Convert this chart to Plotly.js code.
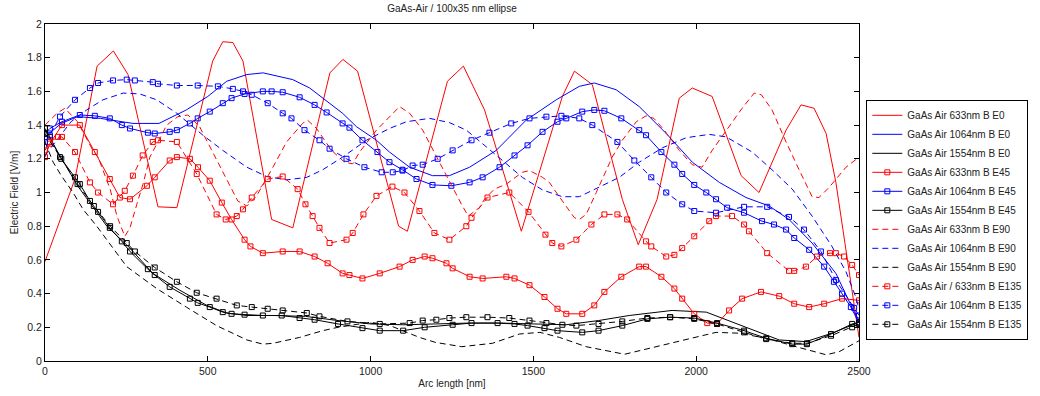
<!DOCTYPE html>
<html>
<head>
<meta charset="utf-8">
<script src="https://cdn.plot.ly/plotly-3.0.1.min.js"></script>
<style>html,body{margin:0;padding:0;background:#fff;}#chart{width:1040px;height:396px;}</style>
</head>
<body>
<div id="chart"></div>
<script>
// ---------- data ----------
const r633_E0_x = [0,92,160,210,255,347,405,515,546,577,608,696,761,875,915,960,1086,1113,1236,1285,1350,1463,1589,1626,1681,1773,1822,1880,1948,1988,2049,2138,2193,2276,2322,2362,2399,2429,2500];
const r633_E0_y = [0.59,1.08,1.75,1.84,1.70,0.915,0.91,1.78,1.895,1.89,1.78,0.84,0.79,1.71,1.79,1.72,0.80,0.77,1.66,1.75,1.49,0.77,1.57,1.72,1.64,0.96,0.69,0.96,1.56,1.62,1.57,1.10,1.00,1.37,1.52,1.50,1.35,1.06,0.14];

const b1064_E0_x = [0,50,100,170,270,350,434,500,558,620,670,761,813,853,914,957,1018,1058,1120,1190,1242,1304,1386,1478,1570,1641,1687,1754,1825,1908,1988,2071,2153,2224,2285,2356,2429,2478,2500];
const b1064_E0_y = [1.33,1.41,1.45,1.44,1.41,1.41,1.49,1.57,1.66,1.70,1.71,1.67,1.62,1.56,1.47,1.39,1.31,1.24,1.15,1.10,1.10,1.15,1.25,1.43,1.55,1.63,1.65,1.61,1.51,1.35,1.18,1.06,0.97,0.92,0.84,0.70,0.52,0.32,0.24];

const k1554_E0_x = [0,100,190,261,331,414,497,558,620,700,800,900,1000,1100,1200,1300,1400,1500,1600,1700,1794,1926,2031,2153,2255,2337,2417,2500];
const k1554_E0_y = [1.37,1.04,0.80,0.67,0.52,0.42,0.33,0.285,0.27,0.27,0.265,0.24,0.22,0.215,0.22,0.225,0.225,0.22,0.215,0.24,0.27,0.30,0.29,0.20,0.125,0.115,0.165,0.23];

const r633_E45_x = [0,15,52,107,153,199,230,261,313,337,383,405,445,470,506,543,573,613,631,669,730,782,828,868,914,935,975,1028,1089,1129,1166,1190,1233,1252,1304,1344,1417,1442,1488,1534,1574,1601,1650,1687,1718,1770,1825,1846,1893,1933,1957,1994,2034,2064,2101,2141,2199,2255,2301,2347,2393,2448,2500];
const r633_E45_y = [1.21,1.29,1.40,1.40,1.24,1.08,0.97,0.96,1.04,1.09,1.19,1.21,1.20,1.15,1.07,0.94,0.84,0.72,0.68,0.64,0.65,0.65,0.62,0.58,0.52,0.51,0.49,0.52,0.56,0.60,0.62,0.61,0.58,0.55,0.50,0.49,0.50,0.49,0.45,0.38,0.31,0.28,0.28,0.33,0.41,0.50,0.56,0.56,0.50,0.43,0.37,0.28,0.225,0.22,0.30,0.37,0.41,0.385,0.34,0.32,0.34,0.37,0.36];

const b1064_E45_x = [0,15,52,107,153,199,236,261,316,337,383,405,445,469,506,546,573,613,669,696,730,782,828,865,914,935,975,1021,1058,1098,1141,1190,1248,1304,1344,1396,1442,1482,1528,1574,1601,1650,1687,1718,1770,1825,1846,1893,1933,1957,1994,2031,2061,2095,2147,2202,2239,2276,2301,2347,2393,2423,2448,2475,2500];
const b1064_E45_y = [1.35,1.38,1.42,1.46,1.455,1.44,1.40,1.38,1.355,1.35,1.36,1.37,1.41,1.44,1.48,1.53,1.56,1.585,1.60,1.60,1.595,1.565,1.52,1.475,1.41,1.385,1.31,1.24,1.18,1.135,1.08,1.045,1.04,1.06,1.09,1.15,1.22,1.28,1.36,1.42,1.44,1.48,1.49,1.485,1.44,1.37,1.34,1.24,1.165,1.11,1.045,1.0,0.96,0.91,0.88,0.83,0.81,0.78,0.73,0.66,0.56,0.47,0.40,0.32,0.225];

const k1554_E45_x = [0,15,46,92,107,138,163,199,236,261,316,337,383,445,469,506,546,573,613,669,727,782,828,900,975,1028,1100,1166,1252,1310,1390,1442,1482,1534,1574,1650,1700,1773,1850,1920,1994,2064,2147,2215,2295,2340,2414,2479,2500];
const k1554_E45_y = [1.38,1.33,1.21,1.09,1.05,0.95,0.885,0.79,0.71,0.65,0.545,0.51,0.44,0.37,0.345,0.32,0.29,0.28,0.275,0.27,0.27,0.255,0.245,0.22,0.195,0.18,0.18,0.20,0.215,0.225,0.225,0.22,0.21,0.195,0.18,0.17,0.18,0.21,0.25,0.26,0.255,0.225,0.18,0.135,0.10,0.10,0.16,0.22,0.23];

const r633_E90_x = [0,37,61,100,147,163,200,221,245,261,282,301,322,374,408,439,475,515,558,592,620,650,700,742,791,806,834,880,920,945,966,1018,1089,1120,1160,1221,1252,1282,1300,1334,1350,1380,1417,1466,1488,1528,1549,1574,1601,1626,1641,1662,1693,1742,1773,1816,1846,1870,1902,1948,1988,2018,2049,2092,2141,2178,2200,2233,2276,2316,2356,2377,2408,2460,2500];
const r633_E90_y = [1.40,1.47,1.50,1.42,1.25,1.21,1.02,0.86,0.74,0.79,0.93,1.05,1.21,1.40,1.45,1.46,1.39,1.24,1.08,0.95,0.92,0.98,1.15,1.30,1.41,1.43,1.38,1.25,1.18,1.17,1.24,1.37,1.51,1.47,1.37,1.15,1.03,0.92,0.86,0.91,0.96,1.02,1.05,1.12,1.13,1.09,1.06,0.99,0.92,0.85,0.84,0.87,1.0,1.21,1.31,1.42,1.455,1.44,1.37,1.25,1.165,1.15,1.25,1.37,1.50,1.59,1.58,1.49,1.30,1.135,0.975,0.97,1.03,1.15,1.21];

const b1064_E90_x = [0,40,80,128,178,240,291,343,405,485,546,620,681,742,804,853,914,987,1058,1110,1181,1242,1294,1356,1405,1466,1528,1589,1641,1702,1764,1825,1896,1969,2040,2092,2172,2233,2295,2356,2417,2460,2490,2500];
const b1064_E90_y = [1.22,1.32,1.42,1.49,1.55,1.59,1.585,1.55,1.47,1.34,1.25,1.15,1.095,1.075,1.09,1.135,1.21,1.31,1.38,1.42,1.44,1.415,1.37,1.27,1.19,1.09,1.015,0.975,0.975,1.03,1.09,1.18,1.265,1.325,1.345,1.33,1.24,1.135,1.02,0.86,0.68,0.53,0.38,0.31];

const k1554_E90_x = [0,25,50,86,117,159,251,343,434,527,620,669,700,782,853,900,1000,1060,1150,1200,1280,1374,1457,1520,1580,1662,1780,1877,1988,2061,2132,2215,2316,2399,2439,2500];
const k1554_E90_y = [1.30,1.18,1.10,1.0,0.90,0.80,0.56,0.43,0.32,0.21,0.125,0.10,0.105,0.14,0.18,0.20,0.23,0.21,0.14,0.11,0.085,0.105,0.16,0.17,0.14,0.085,0.04,0.085,0.14,0.17,0.165,0.135,0.08,0.037,0.055,0.12];

const r633_E135_x = [0,15,40,52,92,138,163,209,245,270,300,331,347,405,466,527,555,589,608,635,684,730,776,800,822,843,874,926,945,978,1018,1067,1104,1150,1196,1242,1294,1310,1359,1426,1485,1537,1558,1586,1632,1678,1718,1758,1788,1846,1862,1908,1933,1957,1994,2040,2061,2110,2147,2162,2218,2285,2301,2337,2371,2411,2429,2454,2479,2500];
const r633_E135_y = [1.25,1.30,1.33,1.33,1.24,1.06,1.0,0.93,1.01,1.10,1.22,1.30,1.31,1.30,1.11,0.87,0.84,0.86,0.90,0.97,1.08,1.095,1.02,0.93,0.86,0.79,0.70,0.72,0.76,0.87,0.98,1.035,1.0,0.89,0.76,0.72,0.80,0.85,0.97,1.0,0.885,0.75,0.70,0.68,0.72,0.81,0.87,0.87,0.84,0.71,0.68,0.62,0.63,0.67,0.74,0.83,0.86,0.86,0.81,0.77,0.64,0.535,0.535,0.56,0.62,0.64,0.64,0.62,0.57,0.51];

const b1064_E135_x = [0,15,46,92,138,163,209,251,276,331,347,405,469,531,577,608,635,684,730,757,797,843,874,926,981,1034,1068,1098,1129,1160,1206,1252,1310,1365,1432,1488,1540,1586,1641,1681,1758,1810,1862,1908,1957,1994,2061,2147,2218,2285,2331,2383,2429,2485,2500];
const b1064_E135_y = [1.30,1.34,1.45,1.55,1.62,1.65,1.665,1.67,1.665,1.655,1.645,1.635,1.635,1.63,1.615,1.60,1.58,1.53,1.47,1.44,1.37,1.31,1.26,1.20,1.15,1.12,1.12,1.13,1.16,1.165,1.20,1.25,1.31,1.355,1.41,1.44,1.45,1.455,1.44,1.40,1.30,1.19,1.09,1.0,0.93,0.89,0.88,0.915,0.915,0.855,0.78,0.65,0.48,0.315,0.27];

const k1554_E135_x = [0,50,100,150,200,251,276,337,405,466,527,589,635,684,730,804,843,929,1028,1120,1160,1202,1242,1294,1359,1426,1488,1540,1589,1632,1700,1773,1850,1920,1994,2064,2147,2215,2295,2340,2414,2479,2500];
const k1554_E135_y = [1.35,1.20,1.05,0.92,0.80,0.70,0.65,0.555,0.47,0.405,0.37,0.33,0.32,0.31,0.30,0.285,0.265,0.235,0.22,0.225,0.24,0.245,0.255,0.26,0.26,0.255,0.24,0.225,0.215,0.21,0.22,0.235,0.255,0.26,0.25,0.22,0.17,0.13,0.105,0.105,0.15,0.20,0.22];

const seriesNames = [
  'GaAs Air 633nm B E0','GaAs Air 1064nm B E0','GaAs Air 1554nm B E0',
  'GaAs Air 633nm B E45','GaAs Air 1064nm B E45','GaAs Air 1554nm B E45',
  'GaAs Air 633nm B E90','GaAs Air 1064nm B E90','GaAs Air 1554nm B E90',
  'GaAs Air / 633nm B E135','GaAs Air 1064nm B E135','GaAs Air 1554nm B E135'
];
const xTicks = [0,500,1000,1500,2000,2500];
const yTicks = [0,0.2,0.4,0.6,0.8,1,1.2,1.4,1.6,1.8,2];
const yTickText = ['0','0.2','0.4','0.6','0.8','1','1.2','1.4','1.6','1.8','2'];

// ---------- styling ----------
const seriesData = [
  [r633_E0_x, r633_E0_y], [b1064_E0_x, b1064_E0_y], [k1554_E0_x, k1554_E0_y],
  [r633_E45_x, r633_E45_y], [b1064_E45_x, b1064_E45_y], [k1554_E45_x, k1554_E45_y],
  [r633_E90_x, r633_E90_y], [b1064_E90_x, b1064_E90_y], [k1554_E90_x, k1554_E90_y],
  [r633_E135_x, r633_E135_y], [b1064_E135_x, b1064_E135_y], [k1554_E135_x, k1554_E135_y]
];
const colors = ['#ff0000','#0000ff','#000000'];
const dashes = ['solid','solid','6px,4px','6px,4px'];
const withMarkers = [false,true,false,true];

const traces = seriesData.map((d, i) => {
  const c = colors[i % 3];
  const g = Math.floor(i / 3);
  return {
    type: 'scatter',
    x: d[0], y: d[1],
    name: seriesNames[i],
    mode: withMarkers[g] ? 'lines+markers' : 'lines',
    line: {color: c, width: 1, dash: dashes[g]},
    marker: {symbol: 'square-open', size: 5, color: c, line: {color: c, width: 1}}
  };
});

const fontFam = '"Liberation Sans", Arial, Helvetica, sans-serif';
const layout = {
  width: 1040, height: 396,
  margin: {l: 45, r: 179, t: 24, b: 35, pad: 0},
  paper_bgcolor: '#ffffff', plot_bgcolor: '#ffffff',
  font: {family: fontFam, size: 10, color: '#222'},
  title: {text: 'GaAs-Air / 100x35 nm ellipse', font: {family: fontFam, size: 10, color: '#222'},
          x: 0.5, xref: 'paper', y: 1, yref: 'container', yanchor: 'top', pad: {t: 5}},
  showlegend: true,
  legend: {x: 1.009, xanchor: 'left', y: 0.775, yanchor: 'top',
           bgcolor: '#ffffff', bordercolor: '#000000', borderwidth: 1,
           font: {family: fontFam, size: 10, color: '#222'},
           tracegroupgap: 0, itemwidth: 30},
  xaxis: {range: [0, 2500], tickvals: xTicks, ticktext: xTicks.map(String),
          ticks: 'inside', ticklen: 5, tickcolor: '#000', mirror: 'ticks',
          showline: true, linecolor: '#000', linewidth: 1, showgrid: false, zeroline: false,
          tickfont: {family: fontFam, size: 10.5, color: '#222'},
          title: {text: 'Arc length [nm]', font: {family: fontFam, size: 10, color: '#222'}, standoff: 4}},
  yaxis: {range: [0, 2], tickvals: yTicks, ticktext: yTickText,
          ticks: 'inside', ticklen: 5, tickcolor: '#000', mirror: 'ticks',
          showline: true, linecolor: '#000', linewidth: 1, showgrid: false, zeroline: false,
          tickfont: {family: fontFam, size: 10.5, color: '#222'},
          title: {text: 'Electric Field [V/m]', font: {family: fontFam, size: 10, color: '#222'}, standoff: 6}}
};

Plotly.newPlot('chart', traces, layout, {displayModeBar: false, staticPlot: true});
</script>
</body>
</html>
